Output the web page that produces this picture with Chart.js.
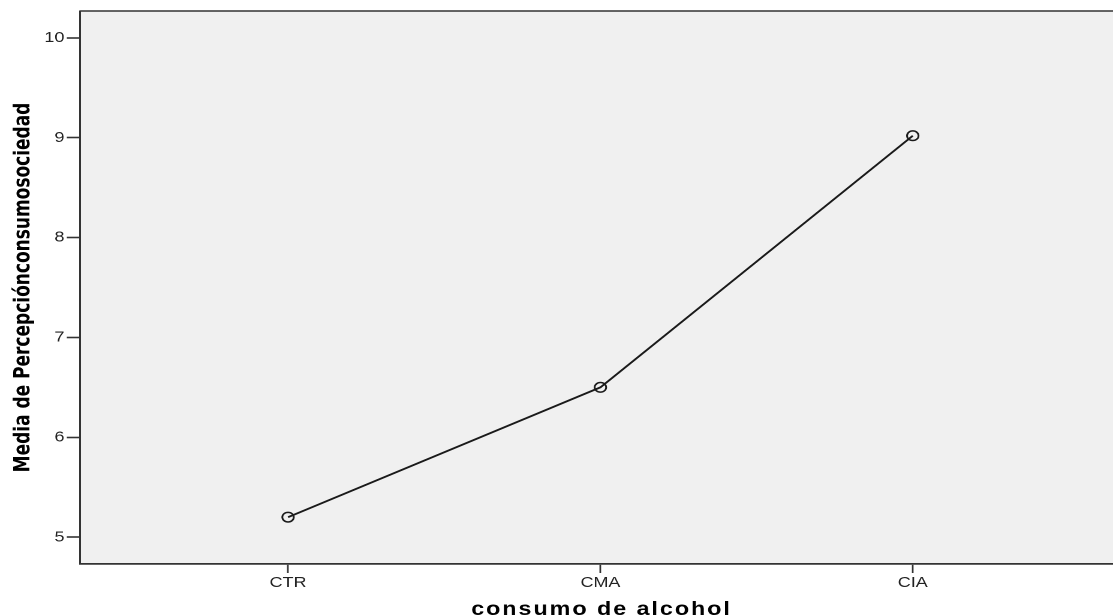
<!DOCTYPE html>
<html><head><meta charset="utf-8">
<script src="https://cdn.jsdelivr.net/npm/chart.js@4"></script>
<style>
html,body{margin:0;padding:0;background:#fff;overflow:hidden;}
#wrap{width:928px;height:616px;transform:scaleX(1.19935);transform-origin:0 0;}
canvas{display:block;}
</style></head><body>
<div id="wrap"><canvas id="c" width="928" height="616"></canvas></div>
<script>
const categories = ['CTR', 'CMA', 'CIA'];
const means = [5.2, 6.5, 9.02];
const yTicks = [5, 6, 7, 8, 9, 10];
const yTitle = 'Media de Percepciónconsumosociedad';
const xTitle = 'consumo de alcohol';

const FRAME = '#333333';
const SANS = "'Liberation Sans', Arial, Helvetica, sans-serif";

const framePlugin = {
  id: 'framePlugin',
  beforeDraw(chart) {
    const {ctx, chartArea: a} = chart;
    ctx.save();
    ctx.fillStyle = '#f0f0f0';
    ctx.fillRect(a.left, a.top, a.right - a.left, a.bottom - a.top);
    ctx.restore();
  },
  afterDraw(chart) {
    const {ctx, chartArea: a} = chart;
    ctx.save();
    ctx.strokeStyle = FRAME;
    ctx.lineWidth = 1.6;
    ctx.beginPath();
    ctx.moveTo(a.left, a.top);
    ctx.lineTo(a.right, a.top);
    ctx.stroke();
    // x axis title
    ctx.font = 'bold 19.5px ' + SANS;
    if ('letterSpacing' in ctx) ctx.letterSpacing = '1.6px';
    ctx.textAlign = 'center';
    ctx.textBaseline = 'alphabetic';
    ctx.fillStyle = '#000';
    ctx.fillText(xTitle, 501.5, 615);
    ctx.restore();
  }
};

new Chart(document.getElementById('c'), {
  type: 'line',
  data: {
    datasets: [{
      data: means.map((v, i) => ({x: i, y: v})),
      borderColor: '#1a1a1a',
      borderWidth: 1.8,
      pointRadius: 4.8,
      pointHoverRadius: 4.8,
      pointBorderWidth: 1.5,
      pointBorderColor: '#1a1a1a',
      pointBackgroundColor: 'rgba(0,0,0,0)',
      fill: false,
      tension: 0
    }]
  },
  options: {
    responsive: false,
    animation: false,
    devicePixelRatio: 2,
    layout: {autoPadding: false, padding: {top: 8, left: 0, right: 0, bottom: 0}},
    plugins: {legend: {display: false}, tooltip: {enabled: false}},
    scales: {
      x: {
        type: 'linear',
        min: -0.666,
        max: 2.641,
        afterBuildTicks: s => { s.ticks = categories.map((c, i) => ({value: i})); },
        afterFit: s => { s.height = 52; },
        grid: {drawOnChartArea: false, tickLength: 9, tickColor: FRAME, tickWidth: 1.4},
        border: {display: true, color: FRAME, width: 1.8},
        ticks: {
          autoSkip: false, maxRotation: 0, padding: 1, color: '#222',
          font: {family: SANS, size: 15},
          callback: v => categories[v] !== undefined ? categories[v] : ''
        },
        title: {display: false}
      },
      y: {
        type: 'linear',
        min: 4.731,
        max: 10.269,
        afterBuildTicks: s => { s.ticks = yTicks.map(v => ({value: v})); },
        afterFit: s => { s.width = 66.7; },
        grid: {drawOnChartArea: false, tickLength: 11, tickColor: FRAME, tickWidth: 1.6},
        border: {display: true, color: FRAME, width: 1.5},
        ticks: {padding: 2, color: '#222', font: {family: SANS, size: 15}},
        title: {
          display: true,
          text: yTitle,
          color: '#000',
          font: {family: "'Liberation Sans Narrow', 'DejaVu Sans Condensed', 'Liberation Sans', Arial, sans-serif", size: 18.9, weight: 'bold', lineHeight: 1.2},
          padding: {top: 8.5, bottom: 0}
        }
      }
    }
  },
  plugins: [framePlugin]
});
</script>
</body></html>
